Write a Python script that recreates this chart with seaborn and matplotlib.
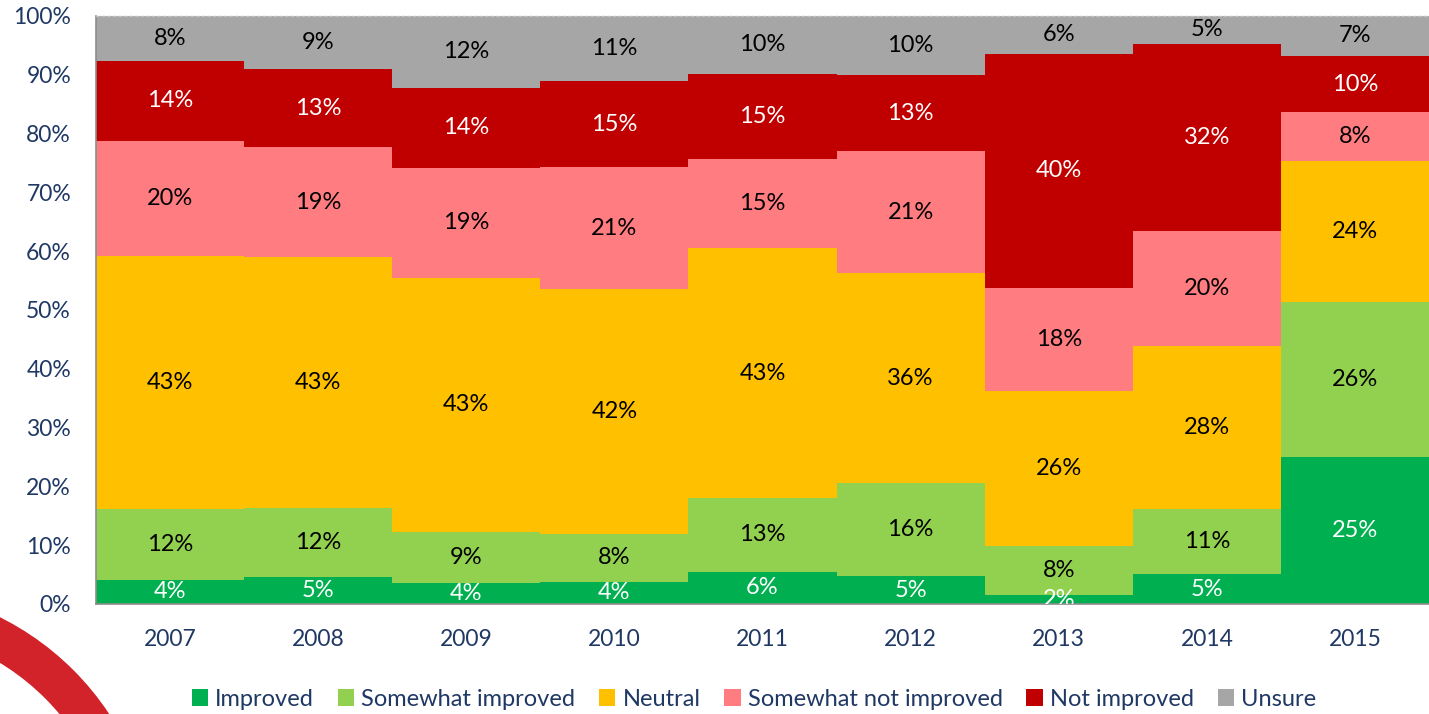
import matplotlib
matplotlib.use("Agg")
import matplotlib.pyplot as plt
from matplotlib.patches import Patch, Wedge
import pandas as pd
import seaborn as sns

# survey shares (%) per year, bottom to top of each stack
years = ["2007", "2008", "2009", "2010", "2011", "2012", "2013", "2014", "2015"]
improved = [4.1, 4.6, 3.5, 3.8, 5.5, 4.7, 1.6, 5.1, 25.0]
somewhat_improved = [12.1, 11.7, 8.7, 8.1, 12.5, 15.8, 8.3, 11.1, 26.4]
neutral = [43.0, 42.7, 43.3, 41.6, 42.5, 35.8, 26.3, 27.6, 24.0]
somewhat_not = [19.6, 18.7, 18.7, 20.8, 15.1, 20.7, 17.6, 19.7, 8.2]
not_improved = [13.6, 13.3, 13.6, 14.6, 14.6, 13.0, 39.8, 31.8, 9.6]
unsure = [7.6, 9.0, 12.2, 11.1, 9.8, 10.0, 6.4, 4.7, 6.8]

categories = ["Improved", "Somewhat improved", "Neutral",
              "Somewhat not improved", "Not improved", "Unsure"]
colors = ["#00B050", "#92D050", "#FFC000", "#FF7C80", "#C00000", "#A6A6A6"]
label_colors = ["white", "black", "black", "black", "white", "black"]
y_ticks = [0, 10, 20, 30, 40, 50, 60, 70, 80, 90, 100]

navy = "#1F3864"

sns.set_theme(style="white")
plt.rcParams["font.family"] = ["Lato", "DejaVu Sans"]

df = pd.DataFrame({"year": years})
series = [improved, somewhat_improved, neutral, somewhat_not, not_improved, unsure]
tops = []
running = [0.0] * len(years)
for s in series:
    running = [a + b for a, b in zip(running, s)]
    tops.append(running)

fig = plt.figure(figsize=(14.29, 7.14), dpi=100)
ax = fig.add_axes([96 / 1429, 1 - 604 / 714, 1 - 96 / 1429, 588 / 714])

# draw cumulative totals from the top layer down so each shorter bar covers the one behind
for i in reversed(range(len(categories))):
    df["top"] = tops[i]
    sns.barplot(data=df, x="year", y="top", color=colors[i], width=1.0,
                saturation=1, linewidth=0, ax=ax, errorbar=None)

# value labels centred in each segment
for i, s in enumerate(series):
    for j, v in enumerate(s):
        mid = tops[i][j] - v / 2
        ax.text(j, mid, f"{int(v + 0.5)}%", ha="center", va="center",
                fontsize=17, color=label_colors[i], clip_on=True)

ax.set_ylim(0, 100)
ax.set_xlim(-0.5, len(years) - 0.5)
ax.set_yticks(y_ticks)
ax.set_yticklabels([f"{t}%" for t in y_ticks])
ax.set_xlabel("")
ax.set_ylabel("")
ax.tick_params(axis="y", length=0, pad=18, labelsize=16.5, labelcolor=navy)
ax.tick_params(axis="x", length=0, pad=18, labelsize=16.5, labelcolor=navy)

for side in ["left", "bottom"]:
    ax.spines[side].set_color("#8C8C8C")
    ax.spines[side].set_linewidth(1.2)
ax.spines["right"].set_visible(False)
ax.spines["top"].set_color("#BFBFBF")
ax.spines["top"].set_linestyle((0, (2, 2)))
ax.spines["top"].set_linewidth(1)

handles = [Patch(facecolor=c, edgecolor="none") for c in colors]
leg = fig.legend(handles, categories, loc="center", bbox_to_anchor=(754 / 1429, 1 - 699 / 714),
                 ncol=6, frameon=False, fontsize=17, handlelength=0.7, handleheight=0.7,
                 handletextpad=0.3, columnspacing=1.0)
for t in leg.get_texts():
    t.set_color(navy)

# decorative red ring in the lower-left corner
ring = Wedge((-1.26, -1.555), 2.82, 0, 90, width=0.4, transform=fig.dpi_scale_trans,
             facecolor="#D2232A", edgecolor="none")
fig.add_artist(ring)

fig.savefig("out.png", dpi=100)
